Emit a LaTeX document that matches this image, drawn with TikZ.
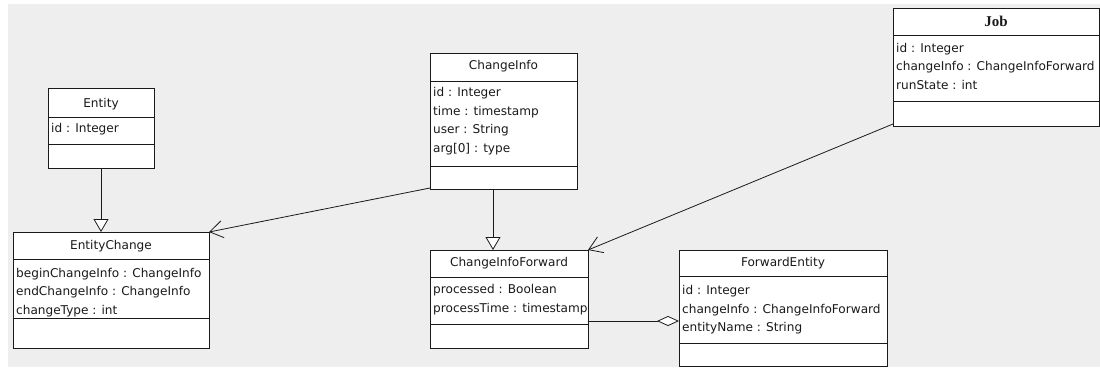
\documentclass[tikz,border=0pt]{standalone}
\usepackage{fontspec}
\setmainfont{DejaVu Sans}
\newfontfamily\titleserif{Liberation Serif}
\usetikzlibrary{arrows.meta,shadows}

\definecolor{canvas}{HTML}{EEEEEE}
\definecolor{ink}{HTML}{1A1A1A}

\begin{document}
\begin{tikzpicture}[x=1pt,y=-1pt,
  classbox/.style={draw=ink, line width=0.9pt, fill=white, anchor=north west,
    inner sep=0pt, outer sep=0pt,
    drop shadow={shadow xshift=1.3pt, shadow yshift=-1.3pt, fill=black!45, opacity=1}},
  divider/.style={draw=ink, line width=0.9pt},
  ttl/.style={anchor=base, inner sep=0pt, text=ink, font=\fontsize{12.1}{14}\selectfont},
  attr/.style={anchor=base west, inner sep=0pt, text=ink, font=\fontsize{12.1}{14}\selectfont},
  link/.style={draw=ink, line width=0.8pt},
  gen/.style={link, -{Triangle[open, fill=white, length=13pt, width=15pt]}},
  assoc/.style={link, -{Straight Barb[length=13pt, width=17pt]}},
  agg/.style={link, -{Diamond[open, fill=white, length=22pt, width=10pt]}}
]
\useasboundingbox (0,0) rectangle (1100,367);
\fill[white] (0,0) rectangle (1100,367);
\fill[canvas] (8,4) rectangle (1100,367);

% Entity
\node[classbox, minimum width=106pt, minimum height=80pt] (entity) at (48,88) {};
\draw[divider] (entity.north west) ++(0,29) -- ++(106,0);
\draw[divider] (entity.north west) ++(0,56) -- ++(106,0);
\node[ttl] (entity-t) at (101,107) {Entity};
\node[attr] (entity-a1) at (51,132) {id : Integer};

% EntityChange
\node[classbox, minimum width=196pt, minimum height=116pt] (entitychange) at (13,232) {};
\draw[divider] (entitychange.north west) ++(0,27) -- ++(196,0);
\draw[divider] (entitychange.north west) ++(0,86) -- ++(196,0);
\node[ttl] (entitychange-t) at (111,249) {EntityChange};
\node[attr] (entitychange-a1) at (16,277) {beginChangeInfo : ChangeInfo};
\node[attr] (entitychange-a2) at (16,295.5) {endChangeInfo : ChangeInfo};
\node[attr] (entitychange-a3) at (16,314) {changeType : int};

% ChangeInfo
\node[classbox, minimum width=147pt, minimum height=136pt] (changeinfo) at (430,53) {};
\draw[divider] (changeinfo.north west) ++(0,28) -- ++(147,0);
\draw[divider] (changeinfo.north west) ++(0,113) -- ++(147,0);
\node[ttl] (changeinfo-t) at (503.5,69) {ChangeInfo};
\node[attr] (changeinfo-a1) at (433,96) {id : Integer};
\node[attr] (changeinfo-a2) at (433,115) {time : timestamp};
\node[attr] (changeinfo-a3) at (433,133.5) {user : String};
\node[attr] (changeinfo-a4) at (433,152) {arg[0] : type};

% ChangeInfoForward
\node[classbox, minimum width=158pt, minimum height=98pt] (cif) at (430,250) {};
\draw[divider] (cif.north west) ++(0,27) -- ++(158,0);
\draw[divider] (cif.north west) ++(0,74) -- ++(158,0);
\node[ttl] (cif-t) at (509,266) {ChangeInfoForward};
\node[attr] (cif-a1) at (433,293) {processed : Boolean};
\node[attr] (cif-a2) at (433,312) {processTime : timestamp};

% ForwardEntity
\node[classbox, minimum width=208pt, minimum height=116pt] (forwardentity) at (679,250) {};
\draw[divider] (forwardentity.north west) ++(0,26) -- ++(208,0);
\draw[divider] (forwardentity.north west) ++(0,93) -- ++(208,0);
\node[ttl] (forwardentity-t) at (783,266) {ForwardEntity};
\node[attr] (forwardentity-a1) at (682,294) {id : Integer};
\node[attr] (forwardentity-a2) at (682,313) {changeInfo : ChangeInfoForward};
\node[attr] (forwardentity-a3) at (682,331) {entityName : String};

% Job
\node[classbox, minimum width=206pt, minimum height=118pt] (job) at (893,8) {};
\draw[divider] (job.north west) ++(0,27) -- ++(206,0);
\draw[divider] (job.north west) ++(0,93) -- ++(206,0);
\node[ttl, font=\titleserif\bfseries\fontsize{15}{17}\selectfont] (job-t) at (996,26) {Job};
\node[attr] (job-a1) at (896,52) {id : Integer};
\node[attr] (job-a2) at (896,70.5) {changeInfo : ChangeInfoForward};
\node[attr] (job-a3) at (896,89) {runState : int};

% Generalizations
\draw[gen] (entity.south) -- (entity.south |- entitychange.north);
\coordinate (ci-foot) at ([xshift=-10.5pt]changeinfo.south);
\draw[gen] (ci-foot) -- (ci-foot |- cif.north);

% Associations
\draw[assoc] ([yshift=1pt]changeinfo.south west) -- (entitychange.north east);
\draw[assoc] ([yshift=2pt]job.south west) -- (cif.north east);

% Aggregation
\coordinate (agg-start) at ([yshift=-22pt]cif.east);
\draw[agg] (agg-start) -- (agg-start -| forwardentity.west);
\end{tikzpicture}
\end{document}
